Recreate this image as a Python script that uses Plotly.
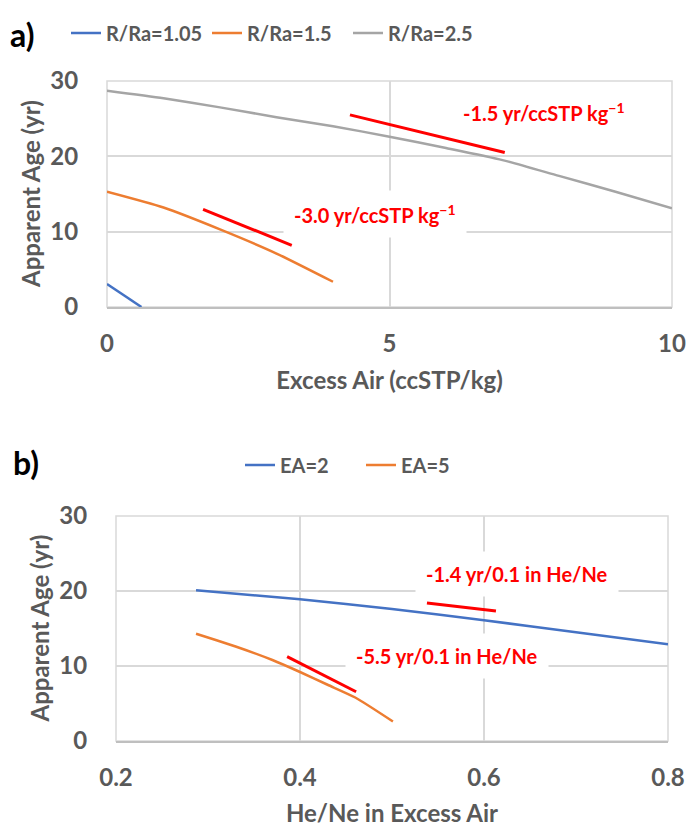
import plotly.graph_objects as go

# ---- Panel a: apparent age vs excess air, one curve per R/Ra ----
ea_105 = [0.0, 0.61]
age_105 = [3.05, 0.0]

ea_15 = [0.0, 1.0, 2.0, 3.0, 4.0]
age_15 = [15.3, 13.2, 10.3, 7.1, 3.35]

ea_25 = [0.0, 1.0, 2.0, 3.0, 4.0, 5.0, 6.0, 7.0, 8.0, 9.0, 10.0]
age_25 = [28.7, 27.7, 26.5, 25.2, 24.0, 22.6, 21.1, 19.5, 17.4, 15.3, 13.1]

# slope guides (panel a)
slope_a1_x = [1.70, 3.27]
slope_a1_y = [12.97, 8.19]
slope_a2_x = [4.30, 7.04]
slope_a2_y = [25.5, 20.5]

# ---- Panel b: apparent age vs He/Ne in excess air ----
hene_ea2 = [0.287, 0.4, 0.5, 0.6, 0.7, 0.8]
age_ea2 = [20.1, 18.9, 17.6, 16.1, 14.5, 12.9]

hene_ea5 = [0.287, 0.33, 0.37, 0.4, 0.43, 0.46, 0.501]
age_ea5 = [14.3, 12.6, 10.8, 9.2, 7.5, 5.8, 2.6]

slope_b1_x = [0.386, 0.461]
slope_b1_y = [11.24, 6.57]
slope_b2_x = [0.538, 0.613]
slope_b2_y = [18.4, 17.33]

BLUE = "#4472C4"
ORANGE = "#ED7D31"
GRAY = "#A5A5A5"
RED = "#FF0000"
TXT = "#595959"
GRID = "#D9D9D9"
FONT = "Lato"

fig = go.Figure()

# panel a curves
fig.add_trace(go.Scatter(x=ea_105, y=age_105, mode="lines", name="R/Ra=1.05",
                         line=dict(color=BLUE, width=2.5), legend="legend",
                         xaxis="x", yaxis="y"))
fig.add_trace(go.Scatter(x=ea_15, y=age_15, mode="lines", name="R/Ra=1.5",
                         line=dict(color=ORANGE, width=2.5, shape="spline", smoothing=0.6),
                         legend="legend", xaxis="x", yaxis="y"))
fig.add_trace(go.Scatter(x=ea_25, y=age_25, mode="lines", name="R/Ra=2.5",
                         line=dict(color=GRAY, width=2.5, shape="spline", smoothing=0.6),
                         legend="legend", xaxis="x", yaxis="y"))
for sx, sy in [(slope_a1_x, slope_a1_y), (slope_a2_x, slope_a2_y)]:
    fig.add_trace(go.Scatter(x=sx, y=sy, mode="lines", line=dict(color=RED, width=3),
                             showlegend=False, hoverinfo="skip", xaxis="x", yaxis="y"))

# panel b curves
fig.add_trace(go.Scatter(x=hene_ea2, y=age_ea2, mode="lines", name="EA=2",
                         line=dict(color=BLUE, width=2.5, shape="spline", smoothing=0.6),
                         legend="legend2", xaxis="x2", yaxis="y2"))
fig.add_trace(go.Scatter(x=hene_ea5, y=age_ea5, mode="lines", name="EA=5",
                         line=dict(color=ORANGE, width=2.5, shape="spline", smoothing=0.6),
                         legend="legend2", xaxis="x2", yaxis="y2"))
for sx, sy in [(slope_b1_x, slope_b1_y), (slope_b2_x, slope_b2_y)]:
    fig.add_trace(go.Scatter(x=sx, y=sy, mode="lines", line=dict(color=RED, width=3),
                             showlegend=False, hoverinfo="skip", xaxis="x2", yaxis="y2"))

W, H = 688, 827

def xd(a, b):
    return [a / W, b / W]

def yd(top, bottom):
    return [(H - bottom) / H, (H - top) / H]

tickfont = dict(family=FONT, size=24, color=TXT, weight="bold")
titlefont = dict(family=FONT, size=24, color=TXT, weight="bold")

common_x = dict(showgrid=True, gridcolor=GRID, gridwidth=1.5, zeroline=False,
                showline=True, linecolor="#BFBFBF", linewidth=2, ticks="",
                tickfont=tickfont, ticklabelstandoff=14, fixedrange=True,
                automargin=False)
# invisible outside ticks push the value labels away from the plot edge
common_y = dict(showgrid=True, gridcolor=GRID, gridwidth=1.5, zeroline=False,
                showline=False, ticks="outside", ticklen=23, tickcolor="rgba(0,0,0,0)",
                tickfont=tickfont, range=[0, 30], tickvals=[0, 10, 20, 30],
                fixedrange=True, automargin=False)

fig.update_layout(
    width=W, height=H,
    margin=dict(l=0, r=0, t=0, b=0, autoexpand=False),
    paper_bgcolor="white", plot_bgcolor="white",
    xaxis=dict(domain=xd(107, 672), range=[0, 10], tickvals=[0, 5, 10], anchor="y",
               title=dict(text="Excess Air (ccSTP/kg)", font=titlefont, standoff=16),
               **common_x),
    yaxis=dict(domain=yd(81, 307), anchor="x", **common_y),
    xaxis2=dict(domain=xd(116, 668), range=[0.2, 0.8], tickvals=[0.2, 0.4, 0.6, 0.8],
                tickformat=".1f", anchor="y2",
                title=dict(text="He/Ne in Excess Air", font=titlefont, standoff=18),
                **common_x),
    yaxis2=dict(domain=yd(516, 741), anchor="x2", **common_y),
    legend=dict(orientation="h", x=66 / W, y=1 - 33 / H, xanchor="left", yanchor="middle",
                font=dict(family=FONT, size=20, color=TXT, weight="bold"),
                entrywidth=96, entrywidthmode="pixels", itemwidth=30,
                bgcolor="rgba(0,0,0,0)"),
    legend2=dict(orientation="h", x=240 / W, y=1 - 465 / H, xanchor="left", yanchor="middle",
                 font=dict(family=FONT, size=20, color=TXT, weight="bold"),
                 entrywidth=76, entrywidthmode="pixels", itemwidth=30,
                 bgcolor="rgba(0,0,0,0)"),
    showlegend=True,
)

# vertical y-axis titles beside the value labels
for yr, xpix in [("y domain", 30), ("y2 domain", 39)]:
    fig.add_annotation(xref="paper", yref=yr, x=xpix / W, y=0.5, text="Apparent Age (yr)",
                       textangle=-90, showarrow=False, xanchor="center", yanchor="middle",
                       font=titlefont)

# light frame around each plot area
for xr, yr in [("x domain", "y domain"), ("x2 domain", "y2 domain")]:
    fig.add_shape(type="rect", xref=xr, yref=yr, x0=0, x1=1, y0=0, y1=1,
                  line=dict(color=GRID, width=1.5), layer="below")

redfont = dict(family=FONT, size=20, color=RED, weight="bold")
labels = [
    ("x", "y", 4.74, 12.35, "-3.0 yr/ccSTP kg<sup>\u22121</sup>"),
    ("x", "y", 7.73, 25.9, "-1.5 yr/ccSTP kg<sup>\u22121</sup>"),
    ("x2", "y2", 0.636, 22.3, "-1.4 yr/0.1 in He/Ne"),
    ("x2", "y2", 0.56, 11.3, "-5.5 yr/0.1 in He/Ne"),
]
for xr, yr, lx, ly, txt in labels:
    fig.add_annotation(xref=xr, yref=yr, x=lx, y=ly, text=txt, showarrow=False,
                       font=redfont, bgcolor="white", borderpad=10)

# panel tags
fig.add_annotation(xref="paper", yref="paper", x=8 / W, y=1 - 34 / H, text="a)",
                   showarrow=False, xanchor="left", yanchor="middle",
                   font=dict(family=FONT, size=32, color="black", weight="bold"))
fig.add_annotation(xref="paper", yref="paper", x=11 / W, y=1 - 462 / H, text="b)",
                   showarrow=False, xanchor="left", yanchor="middle",
                   font=dict(family=FONT, size=32, color="black", weight="bold"))

fig.write_html("out.html")
